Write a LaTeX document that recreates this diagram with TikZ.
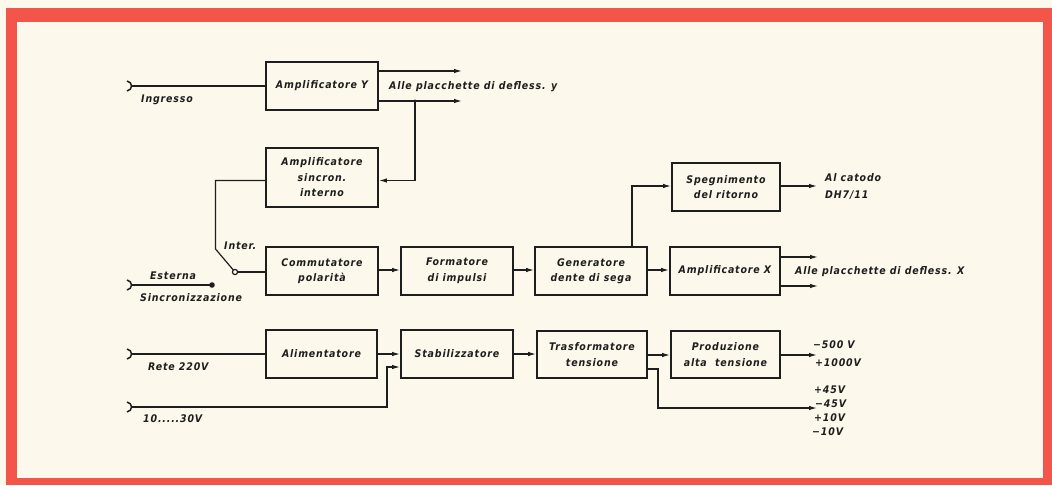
\documentclass[tikz,border=0pt]{standalone}
\usepackage{fontspec}
\newfontfamily\lblfont[LetterSpace=8]{DejaVu Sans Condensed}
\usetikzlibrary{arrows.meta,calc}
\definecolor{bg}{HTML}{FDF8EC}
\definecolor{frame}{HTML}{F4554B}
\definecolor{ink}{HTML}{1E1E1E}
\tikzset{
  blk/.style={draw=ink, line width=1.9pt, inner sep=0pt, align=center,
    font=\lblfont\bfseries\itshape\fontsize{10.5}{15.5}\selectfont, text=ink},
  wire/.style={draw=ink, line width=1.2pt},
  arr/.style={wire, -{Latex[length=8pt,width=4.5pt]}},
  lbl/.style={inner sep=0pt, anchor=west, text=ink,
    font=\lblfont\bfseries\itshape\fontsize{10.5}{12}\selectfont},
  jack/.style={draw=ink, line width=1.5pt},
}
\newcommand{\jackat}[1]{\draw[jack] ($(#1)+(-4,-5)$) .. controls ($(#1)+(2,-4)$) and ($(#1)+(2,4)$) .. ($(#1)+(-4,5)$);}
\begin{document}
\begin{tikzpicture}[x=1pt,y=-1pt]
\useasboundingbox (0,0) rectangle (1052,485);
\fill[bg] (0,0) rectangle (1052,485);
\fill[frame] (6,8) rectangle (1052,485);
\fill[bg] (17,22) rectangle (1043,478);

% boxes
\node[blk, minimum width=112pt, minimum height=48pt] (ampY) at (322,86) {Amplificatore Y};
\node[blk, minimum width=112pt, minimum height=59pt] (sync) at (322,177.5) {Amplificatore\\sincron.\\interno};
\node[blk, minimum width=112pt, minimum height=48pt] (comm) at (322,271) {Commutatore\\polarità};
\node[blk, minimum width=112pt, minimum height=48pt] (form) at (457,271) {Formatore\\di impulsi};
\node[blk, minimum width=112pt, minimum height=48pt] (gen) at (591,271) {Generatore\\dente di sega};
\node[blk, minimum width=110pt, minimum height=48pt] (ampX) at (725,271) {Amplificatore X};
\node[blk, minimum width=108pt, minimum height=48pt] (speg) at (726,187) {Spegnimento\\del ritorno};
\node[blk, minimum width=111pt, minimum height=48pt] (alim) at (321.5,354) {Alimentatore};
\node[blk, minimum width=112pt, minimum height=48pt] (stab) at (457,354) {Stabilizzatore};
\node[blk, minimum width=110pt, minimum height=47pt] (tras) at (592,354.5) {Trasformatore\\tensione};
\node[blk, minimum width=109pt, minimum height=47pt] (prod) at (725.5,354.5) {Produzione\\alta\ \ tensione};

% coordinates
\coordinate (inY) at (131,86);
\coordinate (yo1) at (462,71);
\coordinate (yo2) at (462,101);
\coordinate (jn) at (415,101);
\coordinate (jn2) at (415,180.5);
\coordinate (swV) at (215.5,180.5);
\coordinate (swA) at (215.5,249);
\coordinate (swP) at (235,272);
\coordinate (inE) at (131,285);
\coordinate (dotE) at (212,285);
\coordinate (gU) at (632,186);
\coordinate (so) at (817,186);
\coordinate (xo1) at (818,257);
\coordinate (xo2) at (818,286);
\coordinate (inR) at (131,354);
\coordinate (inL) at (131,407);
\coordinate (lV) at (387,407);
\coordinate (lU) at (387,367);
\coordinate (po) at (817,355);
\coordinate (tA) at (658,369);
\coordinate (tB) at (658,408);
\coordinate (to) at (817,408);

% connectors
\jackat{inY}
\draw[wire] (inY) -- (ampY.west |- inY);
\draw[arr] (ampY.east |- yo1) -- (yo1);
\draw[arr] (ampY.east |- yo2) -- (yo2);
\fill[ink] (jn) circle (1.6);
\draw[arr] (jn) -- (jn2) -- (sync.east |- jn2);
\draw[wire] (sync.west |- swV) -- (swV) -- (swA) -- (swP);
\draw[wire, fill=bg] (swP) circle (2.6);
\draw[wire] ($(swP)+(2.6,0)$) -- (comm.west |- swP);
\jackat{inE}
\draw[wire] (inE) -- (dotE);
\fill[ink] (dotE) circle (2.8);
\draw[arr] (comm.east |- 0,270) -- (form.west |- 0,270);
\draw[arr] (form.east |- 0,270) -- (gen.west |- 0,270);
\draw[arr] (gen.east |- 0,270) -- (ampX.west |- 0,270);
\draw[arr] (gen.north -| gU) -- (gU) -- (speg.west |- gU);
\draw[arr] (speg.east |- so) -- (so);
\draw[arr] (ampX.east |- xo1) -- (xo1);
\draw[arr] (ampX.east |- xo2) -- (xo2);
\jackat{inR}
\draw[wire] (inR) -- (alim.west |- inR);
\draw[arr] (alim.east |- 0,354) -- (stab.west |- 0,354);
\draw[arr] (stab.east |- 0,354) -- (tras.west |- 0,354);
\draw[arr] (tras.east |- 0,355) -- (prod.west |- 0,355);
\draw[arr] (prod.east |- po) -- (po);
\jackat{inL}
\draw[arr] (inL) -- (lV) -- (lU) -- (stab.west |- lU);
\draw[arr] (tras.east |- tA) -- (tA) -- (tB) -- (to);

% labels
\node[lbl] (tIng) at (141,100) {Ingresso};
\node[lbl] (tYo) at (389,87) {Alle placchette di defless. y};
\node[lbl] (tInt) at (224,246) {Inter.};
\node[lbl] (tEst) at (150,276) {Esterna};
\node[lbl] (tSin) at (140,298) {Sincronizzazione};
\node[lbl] (tCat1) at (825,178) {Al catodo};
\node[lbl] (tCat2) at (825,195) {DH7/11};
\node[lbl] (tXo) at (795,272) {Alle placchette di defless. X};
\node[lbl] (tRete) at (148,367) {Rete 220V};
\node[lbl] (tLow) at (143,419) {10.....30V};
\node[lbl] (t500) at (813,345) {−500 V};
\node[lbl] (t1000) at (815,363) {+1000V};
\node[lbl] (t45a) at (814,390) {+45V};
\node[lbl] (t45b) at (815,404) {−45V};
\node[lbl] (t10a) at (814,418) {+10V};
\node[lbl] (t10b) at (812,432) {−10V};
\end{tikzpicture}
\end{document}
